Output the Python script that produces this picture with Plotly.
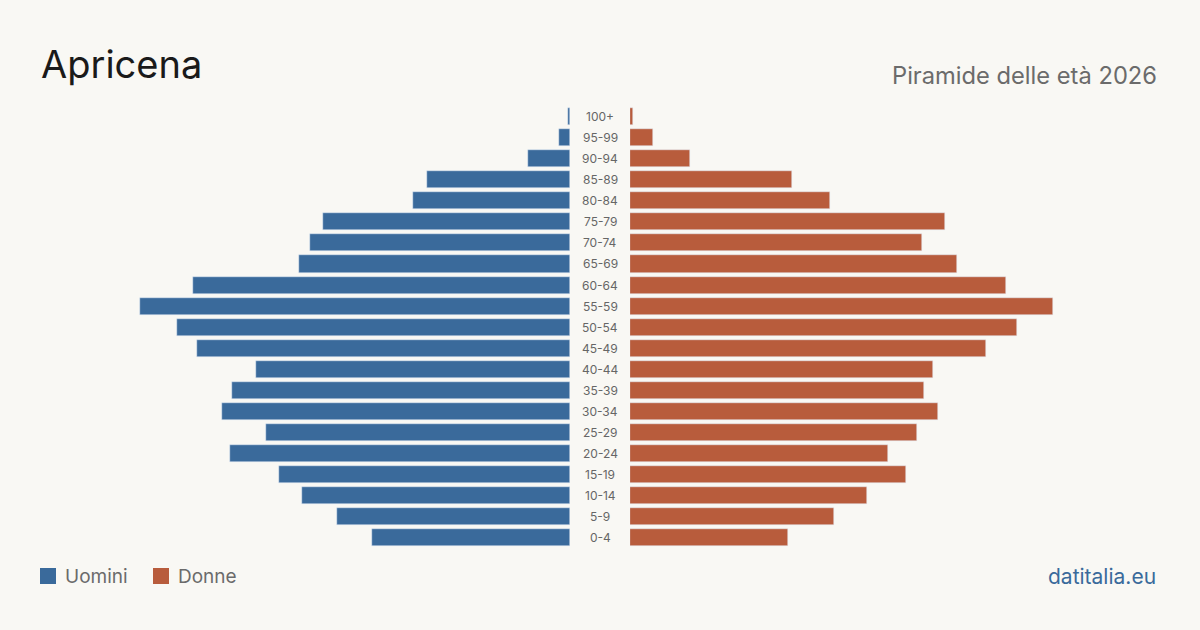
import plotly.graph_objects as go

age_groups = ["0-4", "5-9", "10-14", "15-19", "20-24", "25-29", "30-34", "35-39",
              "40-44", "45-49", "50-54", "55-59", "60-64", "65-69", "70-74",
              "75-79", "80-84", "85-89", "90-94", "95-99", "100+"]
uomini = [198, 233, 268, 291, 340, 304, 348, 338, 314, 373, 393, 430, 377,
          271, 260, 247, 157, 143, 42, 11, 2]
donne = [158, 204, 237, 276, 258, 287, 308, 294, 303, 356, 387, 423, 376,
         327, 292, 315, 200, 162, 60, 23, 3]

BLUE = "#3a6a9b"
ORANGE = "#b85c3c"
BG = "#f9f8f4"
FONT = "Inter"

idx = list(range(len(age_groups)))

fig = go.Figure()
fig.add_trace(go.Bar(y=idx, x=uomini, orientation="h", marker_color=BLUE,
                     width=0.81, xaxis="x", yaxis="y", name="Uomini",
                     hovertext=age_groups, showlegend=False))
fig.add_trace(go.Bar(y=idx, x=donne, orientation="h", marker_color=ORANGE,
                     width=0.81, xaxis="x2", yaxis="y", name="Donne",
                     hovertext=age_groups, showlegend=False))

annotations = []
for i, g in zip(idx, age_groups):
    annotations.append(dict(x=0.5, y=i, xref="paper", yref="y", text=g,
                            showarrow=False, xanchor="center", yanchor="middle",
                            font=dict(family=FONT, size=12, color="#666666")))

annotations += [
    dict(x=39 / 1200, y=1 - 89 / 630, xref="paper", yref="paper", text="Apricena",
         showarrow=False, xanchor="left", yanchor="bottom",
         font=dict(family=FONT, size=38, color="#1a1a1a")),
    dict(x=1159 / 1200, y=1 - 92 / 630, xref="paper", yref="paper",
         text="Piramide delle età 2026", showarrow=False, xanchor="right",
         yanchor="bottom", font=dict(family=FONT, size=23.7, color="#6b6b6b")),
    dict(x=63 / 1200, y=1 - 576 / 630, xref="paper", yref="paper", text="Uomini",
         showarrow=False, xanchor="left", yanchor="middle",
         font=dict(family=FONT, size=19, color="#6b6b6b")),
    dict(x=176 / 1200, y=1 - 576 / 630, xref="paper", yref="paper", text="Donne",
         showarrow=False, xanchor="left", yanchor="middle",
         font=dict(family=FONT, size=19, color="#6b6b6b")),
    dict(x=1158 / 1200, y=1 - 576 / 630, xref="paper", yref="paper",
         text="datitalia.eu", showarrow=False, xanchor="right", yanchor="middle",
         font=dict(family=FONT, size=21, color="#3a6a9b")),
]

shapes = [
    dict(type="rect", xref="paper", yref="paper", x0=40 / 1200, x1=56 / 1200,
         y0=1 - 584 / 630, y1=1 - 568 / 630, fillcolor=BLUE, line_width=0),
    dict(type="rect", xref="paper", yref="paper", x0=153 / 1200, x1=169 / 1200,
         y0=1 - 584 / 630, y1=1 - 568 / 630, fillcolor=ORANGE, line_width=0),
]

fig.update_layout(
    width=1200, height=630,
    margin=dict(l=0, r=0, t=0, b=0),
    paper_bgcolor=BG, plot_bgcolor=BG,
    bargap=0,
    xaxis=dict(domain=[0, 570 / 1200], range=[570, 0], visible=False, fixedrange=True),
    xaxis2=dict(domain=[630 / 1200, 1], range=[0, 570], visible=False, fixedrange=True),
    yaxis=dict(domain=[0, 1], range=[-4.40, 25.55], visible=False, fixedrange=True),
    annotations=annotations,
    shapes=shapes,
    showlegend=False,
)

fig.write_html("out.html")
